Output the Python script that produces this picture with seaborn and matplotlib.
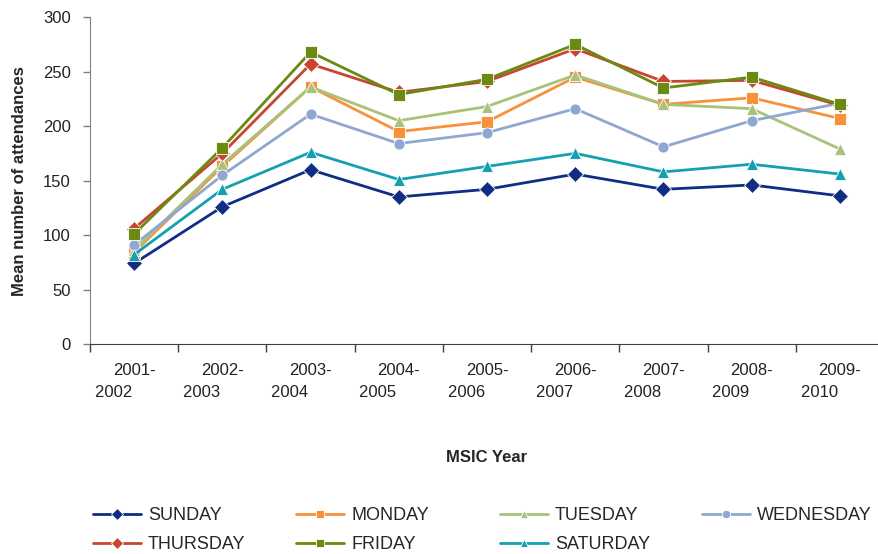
import pandas as pd
import matplotlib.pyplot as plt
import seaborn as sns
import numpy as np

# data
years = ['2001-2002', '2002-2003', '2003-2004', '2004-2005', '2005-2006',
         '2006-2007', '2007-2008', '2008-2009', '2009-2010']
sunday = [74, 126, 160, 135, 142, 156, 142, 146, 136]
monday = [84, 163, 236, 195, 204, 245, 220, 226, 207]
tuesday = [86, 165, 236, 205, 218, 247, 220, 216, 179]
wednesday = [91, 155, 211, 184, 194, 216, 181, 205, 221]
thursday = [106, 175, 257, 231, 241, 271, 241, 242, 219]
friday = [101, 180, 268, 229, 243, 275, 235, 245, 220]
saturday = [82, 142, 176, 151, 163, 175, 158, 165, 156]
days = ['SUNDAY', 'MONDAY', 'TUESDAY', 'WEDNESDAY', 'THURSDAY', 'FRIDAY', 'SATURDAY']

colors = ['#0f2d82', '#f7923a', '#a9c27a', '#8ea8d1', '#c8452f', '#6a8a12', '#14a0b0']
markers = ['D', 's', '^', 'o', 'D', 's', '^']

# long table for seaborn
wide = pd.DataFrame(dict(zip(days, [sunday, monday, tuesday, wednesday,
                                    thursday, friday, saturday])))
wide['pos'] = np.arange(len(years))
df = wide.melt(id_vars='pos', var_name='day', value_name='attend')

sns.set_style('white')
plt.rcParams['font.family'] = ['Liberation Sans', 'DejaVu Sans']

fig = plt.figure(figsize=(8.79, 5.54), dpi=100)
ax = fig.add_axes([0.1024, 0.379, 0.9033, 0.59])

sns.lineplot(data=df, x='pos', y='attend', hue='day', style='day',
             hue_order=days, style_order=days,
             palette=dict(zip(days, colors)), markers=dict(zip(days, markers)),
             dashes=False, linewidth=2, markersize=8, markeredgewidth=0.6,
             ax=ax, legend=True)

# 坐标轴  # axes
ax.set_xlim(-0.5, len(years) - 0.5)
ax.set_ylim(0, 300)
ax.set_yticks(range(0, 301, 50))
ax.set_xticks(np.arange(len(years) + 1) - 0.5)
ax.set_xticklabels([])
# two-line labels, second line shifted left as in the original
xlabels = [y.replace('-', '-\n') + ' ' * 9 for y in years]
ax.set_xticks(np.arange(len(years)), minor=True)
ax.set_xticklabels(xlabels, minor=True, fontsize=12, color='#222222', linespacing=1.55)
ax.tick_params(axis='x', which='major', direction='out', length=6, width=1, color='#404040', bottom=True)
ax.tick_params(axis='x', which='minor', length=0, pad=14)
ax.tick_params(axis='y', direction='out', length=5, width=1, color='#808080', left=True,
               labelsize=12, labelcolor='#222222', pad=9)
for s in ['top', 'right']:
    ax.spines[s].set_visible(False)
ax.spines['left'].set_color('#808080')
ax.spines['bottom'].set_color('#404040')

ax.set_xlabel('MSIC Year', fontsize=12, fontweight='bold', labelpad=36)
ax.set_ylabel('Mean number of attendances', fontsize=12, fontweight='bold', labelpad=11)

# 图例：四列，手动定位  # legend: four columns placed by hand
handles, labels = ax.get_legend_handles_labels()
ax.get_legend().remove()
for h in handles:
    h.set_markeredgewidth(0.6)
    h.set_markersize(6)
col_x = [93, 296, 500, 702]
for c, x0 in enumerate(col_x):
    idx = [i for i in (c, c + 4) if i < len(handles)]
    fig.legend([handles[i] for i in idx], [labels[i] for i in idx],
               loc='upper left', bbox_to_anchor=(x0 / 879, 1 - 507 / 554),
               frameon=False, fontsize=13, handlelength=2.65, handletextpad=0.4,
               labelspacing=0.68, borderpad=0, borderaxespad=0)

plt.savefig('out.png', dpi=100)
